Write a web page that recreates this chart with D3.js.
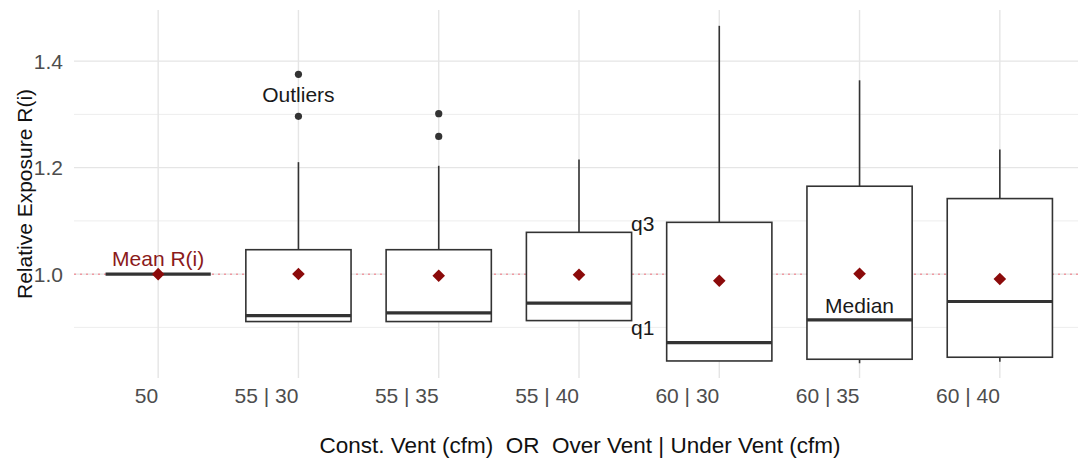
<!DOCTYPE html>
<html>
<head>
<meta charset="utf-8">
<script src="https://cdn.jsdelivr.net/npm/d3@7"></script>
<style>
  html, body { margin: 0; padding: 0; background: #fff; }
  svg { display: block; }
  text { font-family: "Liberation Sans", Arial, sans-serif; }
</style>
</head>
<body>
<svg id="chart" width="1078" height="464"></svg>
<script>
// ---- data ----
const categories = ["50", "55 | 30", "55 | 35", "55 | 40", "60 | 30", "60 | 35", "60 | 40"];
const whiskerLow  = [1.0, 0.911, 0.911, 0.9128, 0.837, 0.8327, 0.8357];
const q1Values    = [1.0, 0.911, 0.911, 0.9128, 0.837, 0.8402, 0.844];
const medians     = [1.0, 0.9223, 0.9273, 0.9456, 0.8714, 0.9142, 0.9486];
const q3Values    = [1.0, 1.0459, 1.0459, 1.0785, 1.0973, 1.1651, 1.1419];
const whiskerHigh = [1.0, 1.2103, 1.2035, 1.2153, 1.4663, 1.364, 1.2342];
const means       = [1.0, 1.0002, 0.997, 0.9989, 0.9876, 1.0008, 0.9908];
const outliers    = [[], [1.3753, 1.2963], [1.3014, 1.2586], [], [], [], []];
const yTicks      = [1.0, 1.2, 1.4];
const yMinor      = [0.9, 1.1, 1.3];
const refLine     = 1.0;

const svg = d3.select("#chart");
const panel = { left: 74, right: 1084, top: 10, bottom: 378 };

const x = d3.scalePoint().domain(categories).range([panel.left, panel.right]).padding(0.6);
const y = d3.scaleLinear().domain([0.805, 1.496]).range([panel.bottom, panel.top]);
const step = x.step();
const boxW = step * 0.75;

// grid
const grid = svg.append("g");
grid.selectAll(".minor").data(yMinor).join("line")
  .attr("x1", panel.left).attr("x2", panel.right)
  .attr("y1", d => y(d)).attr("y2", d => y(d))
  .attr("stroke", "#ebebeb").attr("stroke-width", 0.9);
grid.selectAll(".major").data(yTicks).join("line")
  .attr("x1", panel.left).attr("x2", panel.right)
  .attr("y1", d => y(d)).attr("y2", d => y(d))
  .attr("stroke", "#e5e5e5").attr("stroke-width", 1.4);
grid.selectAll(".vmajor").data(categories).join("line")
  .attr("x1", d => x(d)).attr("x2", d => x(d))
  .attr("y1", panel.top).attr("y2", panel.bottom)
  .attr("stroke", "#e5e5e5").attr("stroke-width", 1.4);

// reference dotted line
svg.append("line")
  .attr("x1", panel.left).attr("x2", panel.right)
  .attr("y1", y(refLine)).attr("y2", y(refLine))
  .attr("stroke", "#f09aa2").attr("stroke-width", 1.5)
  .attr("stroke-dasharray", "2,4");

// boxes
const data = categories.map((c, i) => ({
  c, lo: whiskerLow[i], q1: q1Values[i], med: medians[i], q3: q3Values[i],
  hi: whiskerHigh[i], mean: means[i], out: outliers[i]
}));

const g = svg.append("g");
data.forEach(d => {
  const cx = x(d.c);
  // whiskers
  if (d.hi > d.q3) {
    g.append("line").attr("x1", cx).attr("x2", cx)
      .attr("y1", y(d.q3)).attr("y2", y(d.hi))
      .attr("stroke", "#333").attr("stroke-width", 1.6);
  }
  if (d.lo < d.q1) {
    g.append("line").attr("x1", cx).attr("x2", cx)
      .attr("y1", y(d.q1)).attr("y2", y(d.lo))
      .attr("stroke", "#333").attr("stroke-width", 1.6);
  }
  // box
  if (d.q3 > d.q1) {
    g.append("rect")
      .attr("x", cx - boxW / 2).attr("width", boxW)
      .attr("y", y(d.q3)).attr("height", y(d.q1) - y(d.q3))
      .attr("fill", "#fff").attr("stroke", "#333").attr("stroke-width", 1.6);
  }
  // median
  g.append("line")
    .attr("x1", cx - boxW / 2).attr("x2", cx + boxW / 2)
    .attr("y1", y(d.med)).attr("y2", y(d.med))
    .attr("stroke", "#333").attr("stroke-width", 3.2);
  // outliers
  d.out.forEach(o => {
    g.append("circle").attr("cx", cx).attr("cy", y(o)).attr("r", 3.6).attr("fill", "#333");
  });
  // mean diamond
  const r = 6.3, my = y(d.mean);
  g.append("path")
    .attr("d", `M${cx},${my - r}L${cx + r},${my}L${cx},${my + r}L${cx - r},${my}Z`)
    .attr("fill", "#8b0a0a");
});

// y axis tick labels
svg.append("g").selectAll("text").data(yTicks).join("text")
  .attr("x", 63).attr("y", d => y(d)).attr("dy", "0.36em")
  .attr("text-anchor", "end").attr("font-size", 21).attr("fill", "#4d4d4d")
  .text(d => d3.format(".1f")(d));

// x axis tick labels (right-aligned to ticks as in the reference)
svg.append("g").selectAll("text").data(categories).join("text")
  .attr("x", d => x(d)).attr("y", 403)
  .attr("text-anchor", "end").attr("font-size", 21).attr("fill", "#4d4d4d")
  .text(d => d);

// axis titles
svg.append("text")
  .attr("x", 580).attr("y", 453)
  .attr("text-anchor", "middle").attr("font-size", 22.5).attr("fill", "#111")
  .style("white-space", "pre")
  .text("Const. Vent (cfm)  OR  Over Vent | Under Vent (cfm)");

svg.append("text")
  .attr("transform", `translate(32,${194}) rotate(-90)`)
  .attr("text-anchor", "middle").attr("font-size", 21).attr("fill", "#111")
  .text("Relative Exposure R(i)");

// annotations
svg.append("text").attr("x", x("50")).attr("y", 266)
  .attr("text-anchor", "middle").attr("font-size", 21).attr("fill", "#8b1a1a")
  .text("Mean R(i)");
svg.append("text").attr("x", x("55 | 30")).attr("y", 102)
  .attr("text-anchor", "middle").attr("font-size", 21).attr("fill", "#1a1a1a")
  .text("Outliers");
svg.append("text").attr("x", 631).attr("y", 231)
  .attr("text-anchor", "start").attr("font-size", 21).attr("fill", "#1a1a1a")
  .text("q3");
svg.append("text").attr("x", 631).attr("y", 335)
  .attr("text-anchor", "start").attr("font-size", 21).attr("fill", "#1a1a1a")
  .text("q1");
svg.append("text").attr("x", x("60 | 35")).attr("y", 313)
  .attr("text-anchor", "middle").attr("font-size", 21).attr("fill", "#1a1a1a")
  .text("Median");
</script>
</body>
</html>
